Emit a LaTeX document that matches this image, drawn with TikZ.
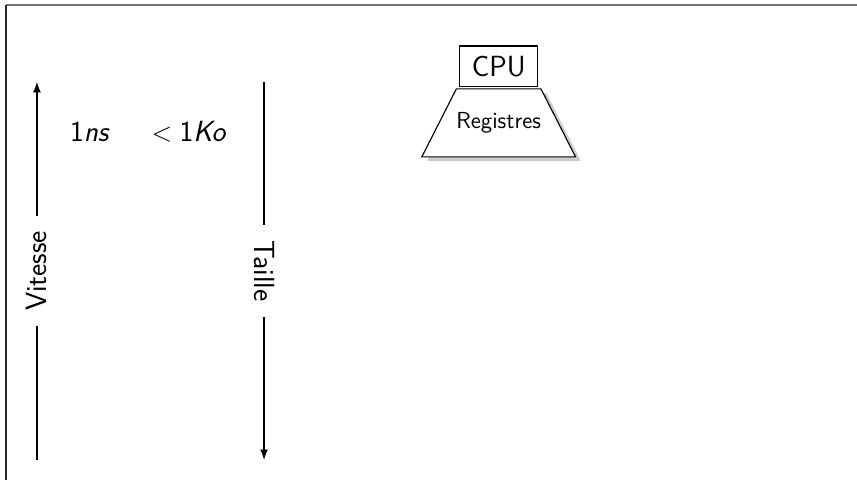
\documentclass[tikz,border=0pt]{standalone}
\usepackage{amsmath,amssymb}
\usepackage{xcolor}
\usepackage{tikz}
\usetikzlibrary{shapes,arrows,positioning,shadows}

\begin{document}
\begin{tikzpicture}[font=\sffamily\fontsize{15.5}{18}\selectfont, >=latex]
\useasboundingbox (0,0) rectangle (16,8.96);
\draw[line width=1pt, black!55] (0.112,8.867) -- (16,8.867);
\draw[line width=1pt, black!85] (0.112,8.867) -- (0.112,0);
\coordinate (vb) at (0.69,0.373);
\coordinate (vt) at (0.69,7.43);
\coordinate (tt) at (4.93,7.43);
\coordinate (tb) at (4.93,0.373);
\draw[->, line width=0.9pt] (vb) -- node[fill=white, sloped, inner sep=8pt] {Vitesse} (vt);
\draw[->, line width=0.9pt] (tt) -- node[fill=white, sloped, inner sep=8pt] {Taille} (tb);
\node (ns) at (1.68,6.50) {1\textit{ns}};
\node (ko) at (3.53,6.50) {$<$\hspace{0.25em}1\textit{Ko}};
\node[draw, trapezium, trapezium stretches body, trapezium left angle=44, trapezium right angle=44,
  inner xsep=0pt, minimum height=1.27cm, fill=white, line width=0.6pt,
  drop shadow={fill=black!20, opacity=1, shadow xshift=0.1cm, shadow yshift=-0.08cm},
  font=\sffamily\fontsize{12.3}{14}\selectfont] (reg) at (9.31,6.665) {Registres};
\node[draw, rectangle, above of=reg, node distance=1.06cm, minimum width=1.46cm, minimum height=0.75cm, line width=0.6pt] (cpu) {CPU};
\end{tikzpicture}
\end{document}
